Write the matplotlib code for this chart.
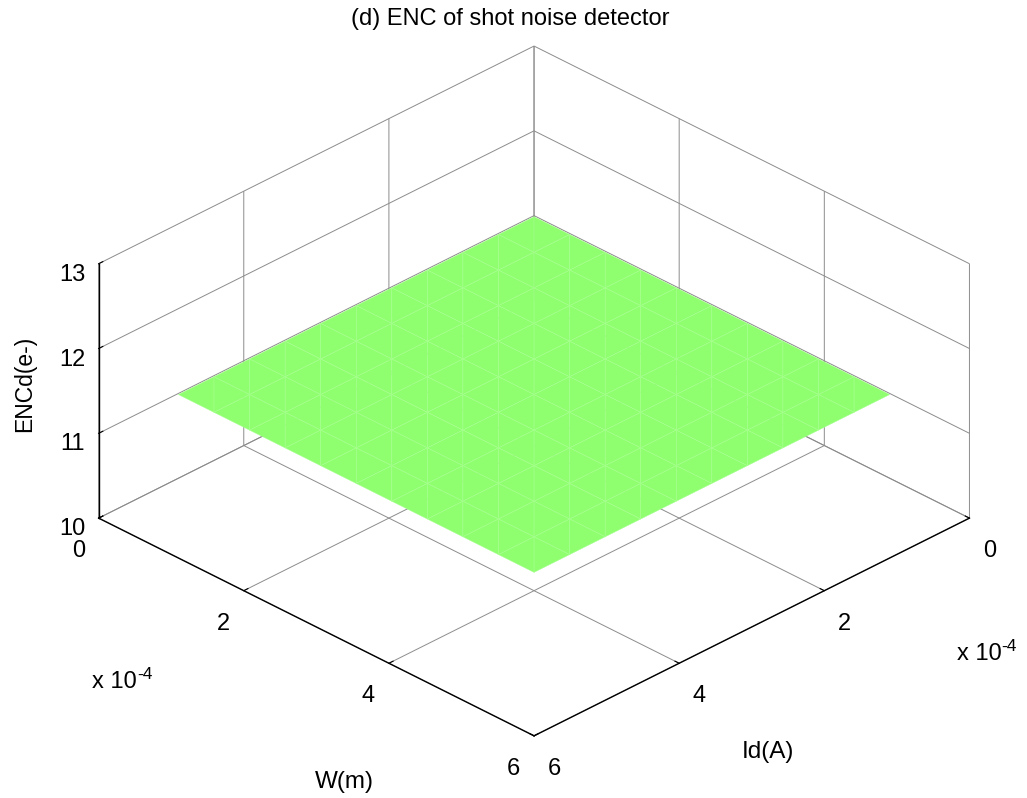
import numpy as np
import matplotlib.pyplot as plt
from matplotlib.text import Annotation

plt.rcParams['font.family'] = ['Liberation Sans', 'DejaVu Sans']

# surface grid (m and A) and the flat ENC level (e-)
w_vals = [0.6e-4, 1.09e-4, 1.58e-4, 2.07e-4, 2.56e-4, 3.05e-4,
          3.54e-4, 4.03e-4, 4.52e-4, 5.01e-4, 5.5e-4]
id_vals = [0.6e-4, 1.09e-4, 1.58e-4, 2.07e-4, 2.56e-4, 3.05e-4,
           3.54e-4, 4.03e-4, 4.52e-4, 5.01e-4, 5.5e-4]
enc_level = 11.5

xy_ticks = [0, 2e-4, 4e-4, 6e-4]
xy_ticklabels = ['0', '2', '4', '6']
z_ticks = [10, 11, 12, 13]

fig = plt.figure(figsize=(10.27, 7.98), dpi=100)
ax = fig.add_axes([0.0095, -0.0034, 1, 1], projection='3d', proj_type='ortho')
ax.view_init(elev=30, azim=45)
ax.set_box_aspect((1, 1, 0.477), zoom=1.118)

# x = Id, y = W
X, Y = np.meshgrid(id_vals, w_vals)
Z = np.full(X.shape, enc_level)
n = len(w_vals)
tris = []
for i in range(n - 1):
    for j in range(n - 1):
        a = i * n + j
        tris.append([a, a + 1, a + n + 1])
        tris.append([a, a + n, a + n + 1])
ax.plot_trisurf(X.ravel(), Y.ravel(), Z.ravel(), triangles=tris,
                color='#8fff70', edgecolor='#a6ff8e', linewidth=0.35,
                shade=False, antialiased=True)

ax.set_xlim(0, 6e-4)
ax.set_ylim(0, 6e-4)
ax.set_zlim(10, 13)
ax.set_xticks(xy_ticks)
ax.set_xticklabels(xy_ticklabels)
ax.set_yticks(xy_ticks)
ax.set_yticklabels(xy_ticklabels)
ax.set_zticks(z_ticks)

for axis in (ax.xaxis, ax.yaxis, ax.zaxis):
    axis.set_pane_color((1, 1, 1, 0))
    axis.pane.set_edgecolor('#808080')
    axis._axinfo['grid'].update(color='#8c8c8c', linewidth=0.7)
    axis._axinfo['axisline']['color'] = 'k'
    axis._axinfo['tick'].update(inward_factor=0.0, outward_factor=0.12)
    axis.line.set_linewidth(1.0)
    axis.set_tick_params(labelsize=17, pad=6)
ax.zaxis.set_tick_params(pad=1)

fig.text(510 / 1027, 1 - 19 / 798, '(d) ENC of shot noise detector',
         ha='center', va='center', fontsize=17)
fig.text(344 / 1027, 1 - 782 / 798, 'W(m)', ha='center', va='center', fontsize=17.5)
fig.text(768 / 1027, 1 - 752 / 798, 'Id(A)', ha='center', va='center', fontsize=17.5)
fig.text(25 / 1027, 1 - 384 / 798, 'ENCd(e-)', ha='center', va='center',
         rotation=90, fontsize=16.5)

# scale factor notes, MATLAB style
for x0, y0 in [(92, 682), (957, 654)]:
    base = fig.text(x0 / 1027, 1 - y0 / 798, 'x 10', ha='left', va='center',
                    fontsize=17)
    fig.add_artist(Annotation('-4', xy=(1.0, 0.5), xycoords=base,
                              ha='left', va='bottom', fontsize=12.5))

fig.savefig('out.png', dpi=100)
